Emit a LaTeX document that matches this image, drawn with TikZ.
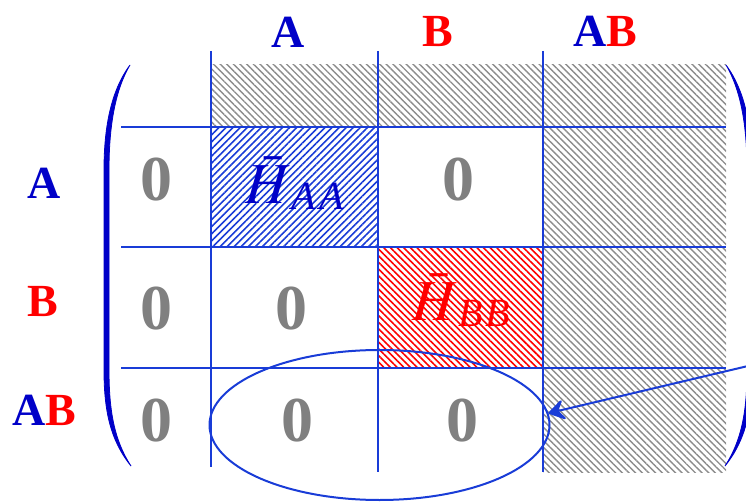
\documentclass[tikz,border=0pt]{standalone}
\usepackage{mathptmx}
\usepackage[no-math]{fontspec}
\setmainfont{Liberation Serif}
\usetikzlibrary{arrows.meta,patterns.meta,shapes.geometric}
\definecolor{lblue}{RGB}{0,0,200}
\definecolor{gblue}{RGB}{25,60,215}
\definecolor{lred}{RGB}{255,0,0}
\tikzset{
  hd/.style={font=\fontsize{46}{48}\selectfont\bfseries, inner sep=0pt},
  zero/.style={font=\fontsize{64}{66}\selectfont\bfseries, text=gray, inner sep=0pt},
  blk/.style={font=\fontsize{58}{60}\selectfont, inner sep=0pt},
  gridl/.style={gblue, line width=2.2pt},
  hgray/.style={pattern={Lines[angle=-45,distance=4.7pt,line width=1.4pt]}, pattern color=gray!90},
  hblue/.style={pattern={Lines[angle=45,distance=5pt,line width=1.6pt]}, pattern color=gblue},
  hred/.style={pattern={Lines[angle=-45,distance=4.7pt,line width=1.6pt]}, pattern color=lred},
  paren/.style={lblue, fill=lblue, line width=0.8pt},
  ring/.style={draw=gblue, ellipse, line width=2pt, inner sep=0pt, minimum width=340pt, minimum height=150pt},
  pointer/.style={-{Stealth[length=19pt,width=24pt,inset=8pt,round]}, gblue, line width=2pt}
}
\newcommand{\cA}{\textcolor{lblue}{A}}
\newcommand{\cB}{\textcolor{lred}{B}}
\newcommand{\blkname}[1]{$\bar{H}$\raisebox{-6pt}{\fontsize{40}{42}\selectfont\itshape #1}}

\begin{document}
\begin{tikzpicture}[x=1pt, y=-1pt]
\useasboundingbox (0,0) rectangle (746,502);
\fill[hgray] (211,65) rectangle (726,127);
\fill[hgray] (543,127) rectangle (726,472);
\fill[hblue] (211,127) rectangle (378,247);
\fill[hred] (378,247) rectangle (543,368);
\foreach \x/\b in {211/467,378/472,543/472}
  \draw[gridl] (\x,51) -- (\x,\b);
\foreach \y in {127,247,368}
  \draw[gridl] (121,\y) -- (726,\y);
\draw[paren] (130,65) .. controls (110,92) and (104,130) .. (104,170) -- (104,370) .. controls (104,410) and (110,440) .. (131,466)
  .. controls (114,440) and (109,410) .. (109,370) -- (109,170) .. controls (109,130) and (114,92) .. (130,65) -- cycle;
\draw[paren] (726,65) .. controls (746,92) and (752,130) .. (752,170) -- (752,370) .. controls (752,410) and (746,440) .. (725,466)
  .. controls (742,440) and (747,410) .. (747,370) -- (747,170) .. controls (747,130) and (742,92) .. (726,65) -- cycle;
\node[hd] (hA) at (288,32) {\cA};
\node[hd] (hB) at (438,32) {\cB};
\node[hd] (hAB) at (605,31) {\cA\cB};
\node[hd] (rA) at (44,183) {\cA};
\node[hd] (rB) at (43,302) {\cB};
\node[hd] (rAB) at (44,410) {\cA\cB};
\node[zero] (z1) at (156,180) {0};
\node[zero] (z2) at (458,180) {0};
\node[zero] (z3) at (156,309) {0};
\node[zero] (z4) at (291,309) {0};
\node[zero] (z5) at (156,421) {0};
\node[zero] (z6) at (297,421) {0};
\node[zero] (z7) at (462,421) {0};
\node[blk, text=lblue] (haa) at (295,183) {\blkname{A\kern4pt A}};
\node[blk, text=lred] (hbb) at (461,300) {\blkname{B\kern3pt B}};
\node[ring] (ring) at (379.5,425) {};
\coordinate (tail) at (748,366);
\draw[pointer] (tail) -- (ring.4);
\end{tikzpicture}
\end{document}
